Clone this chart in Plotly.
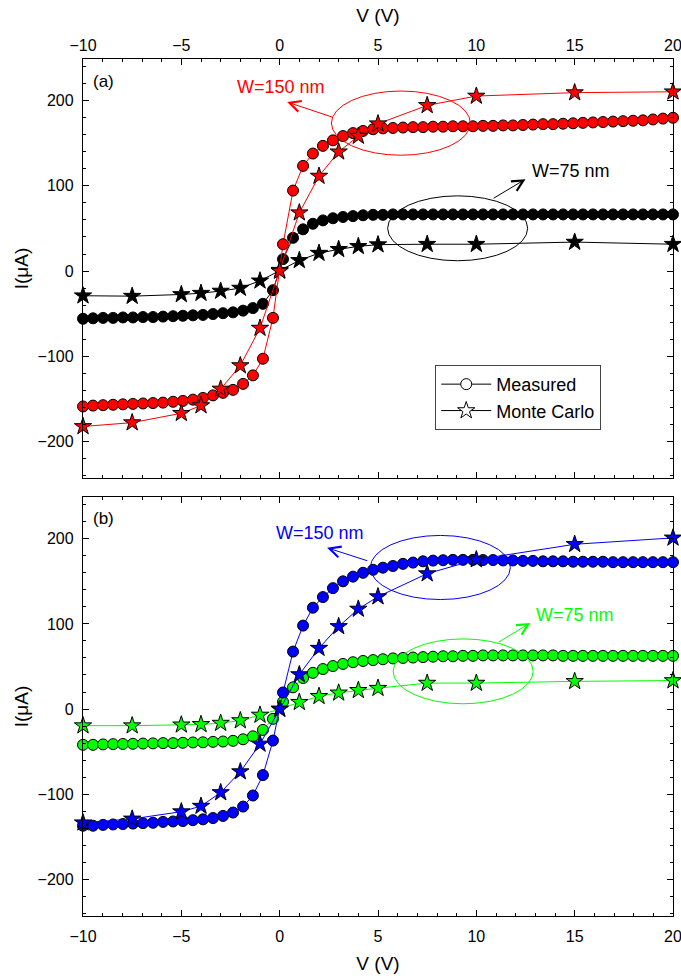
import plotly.graph_objects as go

# ---------------- data ----------------
# measured voltage points (60 points, -10 V .. 20 V)
v_meas = [-10.00, -9.49, -8.98, -8.47, -7.97, -7.46, -6.95, -6.44, -5.93, -5.42,
          -4.92, -4.41, -3.90, -3.39, -2.88, -2.37, -1.86, -1.36, -0.85, -0.34,
          0.17, 0.68, 1.19, 1.69, 2.20, 2.71, 3.22, 3.73, 4.24, 4.75,
          5.25, 5.76, 6.27, 6.78, 7.29, 7.80, 8.31, 8.81, 9.32, 9.83,
          10.34, 10.85, 11.36, 11.86, 12.37, 12.88, 13.39, 13.90, 14.41, 14.92,
          15.42, 15.93, 16.44, 16.95, 17.46, 17.97, 18.47, 18.98, 19.49, 20.00]

# Monte Carlo voltage points
v_mc = [-10, -7.5, -5, -4, -3, -2, -1, 0, 1, 2, 3, 4, 5, 7.5, 10, 15, 20]

# (a) measured, W=150 nm (red)
a_meas_150 = [-159, -158, -157.5, -157, -156.5, -156, -155.5, -155, -154.5, -153.5,
              -152.5, -151, -149, -146, -143, -139.5, -132.5, -122.5, -103, -55,
              31.5, 94.5, 123.5, 138, 147, 153.5, 158.5, 162, 164.5, 166.5,
              167.5, 168, 168.5, 169, 169, 169.5, 169.5, 170, 170, 170,
              170.5, 170.5, 171, 171, 171.5, 172, 172.5, 172.5, 173, 173.5,
              174, 174.5, 175, 175.5, 176, 176.5, 177, 178, 179, 180]
# (a) measured, W=75 nm (black)
a_meas_75 = [-56, -55.5, -55, -55, -54.5, -54.5, -54, -54, -53.5, -53,
             -52.5, -52, -51.5, -50.5, -49.5, -48.5, -46.5, -43.5, -38.5, -22.5,
             14, 39, 49, 55.5, 59.5, 62, 63.5, 64.5, 65.5, 66,
             66, 66.5, 66.5, 66.5, 66.5, 66.5, 66.5, 66.5, 66.5, 66.5,
             66.5, 66.5, 66.5, 66.5, 66.5, 66.5, 66.5, 66.5, 66.5, 66.5,
             66.5, 66.5, 66.5, 66.5, 66.5, 66.5, 66.5, 66.5, 66.5, 66.5]
# (a) Monte Carlo
a_mc_150 = [-182.5, -178, -167, -158, -138.5, -111, -67, 0, 68.5, 111.5, 140, 158.5,
            173, 194.5, 205.5, 209.5, 210.5]
a_mc_75 = [-29, -29.5, -27.5, -26, -23.5, -20, -11.5, 1, 12.5, 21, 25.5, 29,
           31, 31.5, 31.5, 34, 31.5]

# (b) measured, W=150 nm (blue)
b_meas_150 = [-137, -137, -136, -135.5, -135, -134.5, -134, -133.5, -132.5, -132,
              -131.5, -130.5, -129.5, -128, -125.5, -121.5, -114.5, -101.5, -77.5, -37,
              19.5, 67.5, 98, 119, 131.5, 142, 150, 155.5, 160, 163.5,
              166, 168, 170.5, 172, 173.5, 174.3, 174.8, 175.2, 175.2, 175.2,
              175, 175, 174.5, 174.5, 174, 174, 173.5, 173.5, 173.5, 173,
              173, 173, 173, 172.5, 172.5, 172.5, 172.5, 172.5, 172.5, 172.5]
# (b) measured, W=75 nm (green)
b_meas_75 = [-42, -42, -41.5, -41.2, -41, -40.8, -40.5, -40.3, -40, -40,
             -39.6, -39.2, -39, -38.5, -38.1, -37.3, -35.5, -32, -24.5, -11.5,
             8.5, 25.5, 36.5, 42.5, 47, 50.5, 53, 55, 56.5, 57.5,
             58.5, 59.5, 60, 60.5, 61, 61.5, 62, 62, 62.5, 62.5,
             63, 63, 63, 63, 63, 63, 63, 63, 62.5, 62.5,
             62.5, 62.5, 62.5, 62.5, 62.5, 62.5, 62.5, 62.5, 62.5, 62.5]
# (b) Monte Carlo
b_mc_150 = [-133.5, -129, -120.5, -114, -98, -73.5, -41, 0, 40.5, 71.5, 97, 117.5,
            132, 159, 175.5, 193.5, 201]
b_mc_75 = [-19.5, -19.5, -18.5, -18, -16.5, -13.5, -7, 0, 8, 15, 19, 22,
           24.5, 30.5, 30.5, 32.5, 33.5]

legend_names = ["Measured", "Monte Carlo"]

# ---------------- style ----------------
FONT = "Liberation Sans, Arial, Helvetica, sans-serif"
RED, BLK, BLU, GRN = "#ff0000", "#000000", "#0000ff", "#00ff00"
CIRC, STAR = 11, 13

fig = go.Figure()


def meas(x, y, color, xa, ya):
    fig.add_trace(go.Scatter(
        x=x, y=y, mode="lines+markers", xaxis=xa, yaxis=ya, showlegend=False,
        cliponaxis=False,
        line=dict(color=color, width=1),
        marker=dict(symbol="circle", size=CIRC, color=color,
                    line=dict(color="black", width=1))))


def mc(x, y, color, xa, ya):
    fig.add_trace(go.Scatter(
        x=x, y=y, mode="lines+markers", xaxis=xa, yaxis=ya, showlegend=False,
        cliponaxis=False,
        line=dict(color=color, width=1),
        marker=dict(symbol="star", size=STAR, color=color,
                    line=dict(color="black", width=1))))


# panel (a): x / y
meas(v_meas, a_meas_75, BLK, "x", "y")
meas(v_meas, a_meas_150, RED, "x", "y")
mc(v_mc, a_mc_75, BLK, "x", "y")
mc(v_mc, a_mc_150, RED, "x", "y")
# panel (b): x2 / y2
meas(v_meas, b_meas_75, GRN, "x2", "y2")
meas(v_meas, b_meas_150, BLU, "x2", "y2")
mc(v_mc, b_mc_75, GRN, "x2", "y2")
mc(v_mc, b_mc_150, BLU, "x2", "y2")

# legend entries (hollow symbols)
for name, sym, sz in zip(legend_names, ["circle", "star"], [11, 13]):
    fig.add_trace(go.Scatter(
        x=[None], y=[None], mode="lines+markers", name=name, xaxis="x", yaxis="y",
        line=dict(color="black", width=1),
        marker=dict(symbol=sym, size=sz, color="white",
                    line=dict(color="black", width=1))))

axis_common = dict(
    showline=True, linecolor="black", linewidth=1.3, mirror="ticks",
    ticks="inside", ticklen=6, tickwidth=1, tickcolor="black",
    showgrid=False, zeroline=False, ticklabeloverflow="allow", automargin=False,
    tickfont=dict(size=16, family=FONT, color="black"),
)
xcommon = dict(axis_common, range=[-10, 20], dtick=5, tick0=0,
               minor=dict(dtick=1, ticks="inside", ticklen=3, tickcolor="black"))
ycommon = dict(axis_common, range=[-243, 249], dtick=100, tick0=0,
               minor=dict(dtick=20, ticks="inside", ticklen=3, tickcolor="black"),
               ticklabelstandoff=5)

fig.update_layout(
    width=681, height=980,
    margin=dict(l=83, r=8, t=59, b=64, autoexpand=False),
    paper_bgcolor="white", plot_bgcolor="white",
    font=dict(family=FONT, color="black"),
    xaxis=dict(xcommon, domain=[0, 1], anchor="y", side="top",
               ticklabelstandoff=0,
               title=dict(text="V (V)", font=dict(size=19), standoff=9)),
    yaxis=dict(ycommon, domain=[0.5111, 1], anchor="x",
               title=dict(text="I(μA)", font=dict(size=19), standoff=3)),
    xaxis2=dict(xcommon, domain=[0, 1], anchor="y2", side="bottom",
                ticklabelstandoff=6,
                title=dict(text="V (V)", font=dict(size=19), standoff=12)),
    yaxis2=dict(ycommon, domain=[0, 0.4889], anchor="x2",
                title=dict(text="I(μA)", font=dict(size=19), standoff=3)),
    legend=dict(x=0.597, y=0.643, xanchor="left", yanchor="top",
                bordercolor="#444", borderwidth=1, bgcolor="white",
                font=dict(size=18, family=FONT), itemwidth=50,
                tracegroupgap=0),
)

# ellipses
fig.add_shape(type="circle", xref="x", yref="y", x0=2.63, x1=9.70, y0=136, y1=211.4,
              line=dict(color=RED, width=1))
fig.add_shape(type="circle", xref="x", yref="y", x0=5.49, x1=12.61, y0=12.1, y1=88.3,
              line=dict(color=BLK, width=1))
fig.add_shape(type="circle", xref="x2", yref="y2", x0=4.61, x1=11.73, y0=128.6, y1=203.9,
              line=dict(color=BLU, width=1))
fig.add_shape(type="circle", xref="x2", yref="y2", x0=5.77, x1=12.89, y0=6.2, y1=82.4,
              line=dict(color=GRN, width=1))


def arrow(xh, yh, xt, yt, color, xa, ya):
    fig.add_annotation(x=xh, y=yh, ax=xt, ay=yt, xref=xa, yref=ya, axref=xa, ayref=ya,
                       text="", showarrow=True, arrowhead=5, arrowsize=2.2,
                       arrowwidth=1, arrowcolor=color, standoff=0, startstandoff=0)


arrow(0.38, 198.5, 2.75, 180.2, RED, "x", "y")
arrow(12.5, 107.9, 10.8, 84.4, BLK, "x", "y")
arrow(2.41, 189.4, 4.53, 173.6, BLU, "x2", "y2")
arrow(12.75, 101.2, 11.06, 77.6, GRN, "x2", "y2")


def label(x, y, text, color, xa, ya, size=18):
    fig.add_annotation(x=x, y=y, xref=xa, yref=ya, text=text, showarrow=False,
                       font=dict(size=size, color=color, family=FONT))


label(0.05, 216, "W=150 nm", RED, "x", "y")
label(14.8, 117.6, "W=75 nm", BLK, "x", "y")
label(2.06, 207, "W=150 nm", BLU, "x2", "y2")
label(15.04, 110.9, "W=75 nm", GRN, "x2", "y2")
label(-8.95, 223, "(a)", BLK, "x", "y", 17)
label(-8.98, 223.5, "(b)", BLK, "x2", "y2", 17)

fig.write_html("out.html")
